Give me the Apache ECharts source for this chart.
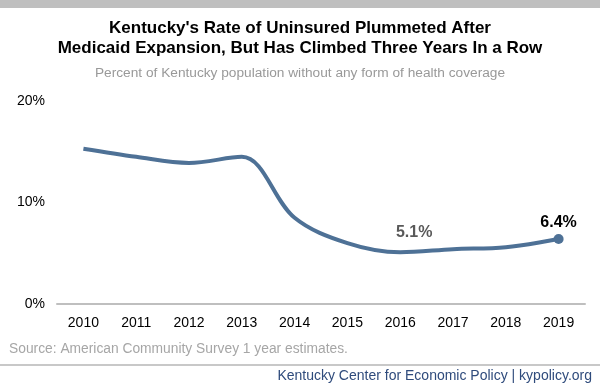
<!DOCTYPE html>
<html><head><meta charset="utf-8">
<script src="https://cdn.jsdelivr.net/npm/echarts@6/dist/echarts.min.js"></script>
<style>html,body{margin:0;padding:0;background:#fff}#c{width:600px;height:389px}</style>
</head><body><div id="c"></div>
<script>
const years = ['2010','2011','2012','2013','2014','2015','2016','2017','2018','2019'];
const uninsured = [15.3, 14.5, 13.9, 14.5, 8.5, 6.0, 5.1, 5.4, 5.6, 6.4];
const yTicks = [0, 10, 20];
const titleText = "Kentucky's Rate of Uninsured Plummeted After\nMedicaid Expansion, But Has Climbed Three Years In a Row";
const subtitleText = 'Percent of Kentucky population without any form of health coverage';
const sourceText = 'Source: American Community Survey 1 year estimates.';
const footerText = 'Kentucky Center for Economic Policy | kypolicy.org';

const chart = echarts.init(document.getElementById('c'), null, {renderer:'canvas'});
const font = 'Liberation Sans, Arial, sans-serif';
const dataPts = uninsured.map((v,i)=>{
  const p = {value:v, symbolSize:0};
  if (i === 6) p.label = {show:true, position:'top', distance:12, offset:[14,0], formatter:'5.1%', color:'#595959', fontSize:16, fontWeight:'bold', fontFamily:font};
  if (i === 9) { p.label = {show:true, position:'top', distance:3, formatter:'6.4%', color:'#000', fontSize:16, fontWeight:'bold', fontFamily:font}; p.symbolSize = 10; }
  return p;
});
chart.setOption({
  animation:false,
  graphic:[
    {type:'rect', shape:{x:0,y:0,width:600,height:8}, style:{fill:'#bfbfbf'}},
    {type:'text', left:'center', top:18, style:{text:titleText, font:'bold 17px '+font, fill:'#000', textAlign:'center', lineHeight:20}},
    {type:'text', left:'center', top:66, style:{text:subtitleText, font:'13.7px '+font, fill:'#999'}},
    {type:'text', left:9, top:342, style:{text:sourceText, font:'13.8px '+font, fill:'#a6a6a6'}},
    {type:'rect', shape:{x:0,y:364,width:600,height:2}, style:{fill:'#c8c8c8'}},
    {type:'text', right:8, top:369, style:{text:footerText, font:'14px '+font, fill:'#2f4b7c'}}
  ],
  grid:{left:57, right:15, top:101, bottom:85, containLabel:false},
  xAxis:{type:'category', data:years, boundaryGap:true,
    axisLine:{lineStyle:{color:'#bfbfbf', width:2}}, axisTick:{show:false},
    axisLabel:{color:'#000', fontSize:14, fontFamily:font, margin:12}},
  yAxis:{type:'value', min:yTicks[0], max:yTicks[2], interval:10,
    splitLine:{show:false}, axisLine:{show:false}, axisTick:{show:false},
    axisLabel:{color:'#000', fontSize:14, fontFamily:font, margin:12, formatter:v=>v+'%'}},
  series:[{type:'line', data:dataPts, smooth:0.35, symbol:'circle', showAllSymbol:true,
    lineStyle:{color:'#4e7196', width:4}, itemStyle:{color:'#4e7196'}}]
});
</script></body></html>
